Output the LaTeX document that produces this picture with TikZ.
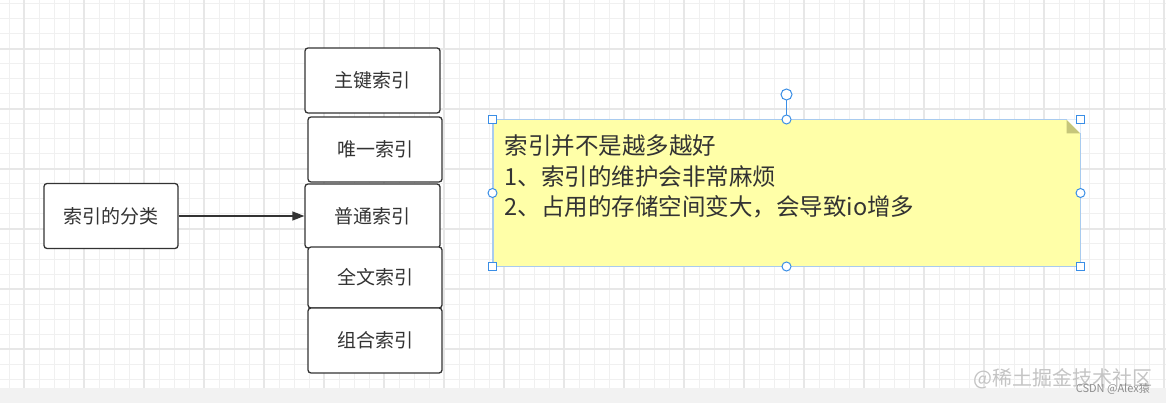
\documentclass[tikz,border=0pt]{standalone}
\usepackage{fontspec}
\setmainfont{Noto Sans CJK SC}
\usetikzlibrary{arrows.meta, positioning, calc}
\definecolor{boxline}{HTML}{333333}
\definecolor{txtclr}{HTML}{333333}
\definecolor{gridmin}{HTML}{F0F0F0}
\definecolor{gridmaj}{HTML}{E7E7E7}
\definecolor{stripclr}{HTML}{F2F2F2}
\definecolor{notefill}{HTML}{FFFFA8}
\definecolor{noteline}{HTML}{A9CBEF}
\definecolor{foldclr}{HTML}{C6C67A}
\definecolor{handleclr}{HTML}{3A8EE6}
\definecolor{markclr}{HTML}{C4C4C4}
\definecolor{markdark}{HTML}{8E8E8E}
\tikzset{
  idxbox/.style={
    rectangle, rounded corners=3pt, draw=boxline, line width=1.3pt,
    fill=white, text=txtclr, font=\fontsize{19}{22}\selectfont,
    minimum width=134pt, minimum height=65pt, inner sep=0pt
  },
  notebox/.style={
    rectangle, draw=noteline, line width=1pt, fill=notefill,
    minimum width=587pt, minimum height=146pt, inner sep=0pt
  },
  notetxt/.style={
    font=\fontsize{23.5}{30.5}\selectfont, text=txtclr, align=left, inner sep=0pt
  },
  sqhandle/.style={rectangle, draw=handleclr, fill=white, line width=1pt,
    minimum size=8pt, inner sep=0pt},
  dothandle/.style={circle, draw=handleclr, fill=white, line width=1pt,
    minimum size=9pt, inner sep=0pt},
  arr/.style={-{Triangle[length=12pt, width=9pt]}, line width=1.3pt, boxline},
}

\begin{document}
\begin{tikzpicture}[x=1pt, y=-1pt]
\useasboundingbox (0,0) rectangle (1166,403);

% --- Background grid ---
\fill[white] (0,0) rectangle (1166,388);
\begin{scope}
\clip (0,0) rectangle (1166,388);
\foreach \gx in {9,24,...,1166} \draw[gridmin, line width=1pt] (\gx,0) -- (\gx,388);
\foreach \gy in {4,19,...,388} \draw[gridmin, line width=1pt] (0,\gy) -- (1166,\gy);
\foreach \gx in {24,84,...,1166} \draw[gridmaj, line width=1.3pt] (\gx,0) -- (\gx,388);
\foreach \gy in {49,109,...,388} \draw[gridmaj, line width=1.3pt] (0,\gy) -- (1166,\gy);
\end{scope}
\fill[stripclr] (0,388) rectangle (1166,403);

% --- Index kinds ---
\node[idxbox] (kinds) at (111,216) {索引的分类};
\node[idxbox, minimum width=135pt] (pk) at (372.5,80.5) {主键索引};
\node[idxbox] (uq) at (375,149.5) {唯一索引};
\node[idxbox, minimum width=135pt, minimum height=64pt] (nm) at (372.5,216) {普通索引};
\node[idxbox, minimum height=61pt] (ft) at (375,277.5) {全文索引};
\node[idxbox] (cb) at (375,340.5) {组合索引};

% --- Arrow ---
\draw[arr] (kinds.east) -- (nm.west);

% --- Note ---
\node[notebox] (note) at (786.5,193) {};
\fill[foldclr] ($(note.north east)+(-14,0)$) -- ($(note.north east)+(0,14)$) -- ($(note.north east)+(-14,14)$) -- cycle;
\fill[white] ($(note.north east)+(-14,0)$) -- (note.north east) -- ($(note.north east)+(0,14)$) -- cycle;
\draw[noteline, line width=1pt] ($(note.north east)+(-14,0)$) -- (note.north west) -- (note.south west) -- (note.south east) -- ($(note.north east)+(0,14)$);
\node[notetxt, anchor=north west] (notetext) at ($(note.north west)+(12,15)$)
  {索引并不是越多越好\\1、索引的维护会非常麻烦\\2、占用的存储空间变大，会导致io增多};

% --- Selection handles ---
\coordinate (rot) at ($(note.north)+(0,-25)$);
\draw[handleclr, line width=1.2pt] (note.north) -- (rot);
\node[dothandle, minimum size=11pt] at (rot) {};
\foreach \an in {north west, north east, south west, south east}
  \node[sqhandle] at (note.\an) {};
\foreach \an in {north, south, east, west}
  \node[dothandle] at (note.\an) {};

% --- Watermark ---
\node[font=\fontsize{20}{22}\selectfont, text=markclr, anchor=east, inner sep=0pt] (wm) at (1153,379) {@稀土掘金技术社区};
\node[font=\fontsize{11}{12}\selectfont, text=markdark, anchor=east, inner sep=0pt] (csdn) at (1150,389) {CSDN @Alex猿};

\end{tikzpicture}
\end{document}
